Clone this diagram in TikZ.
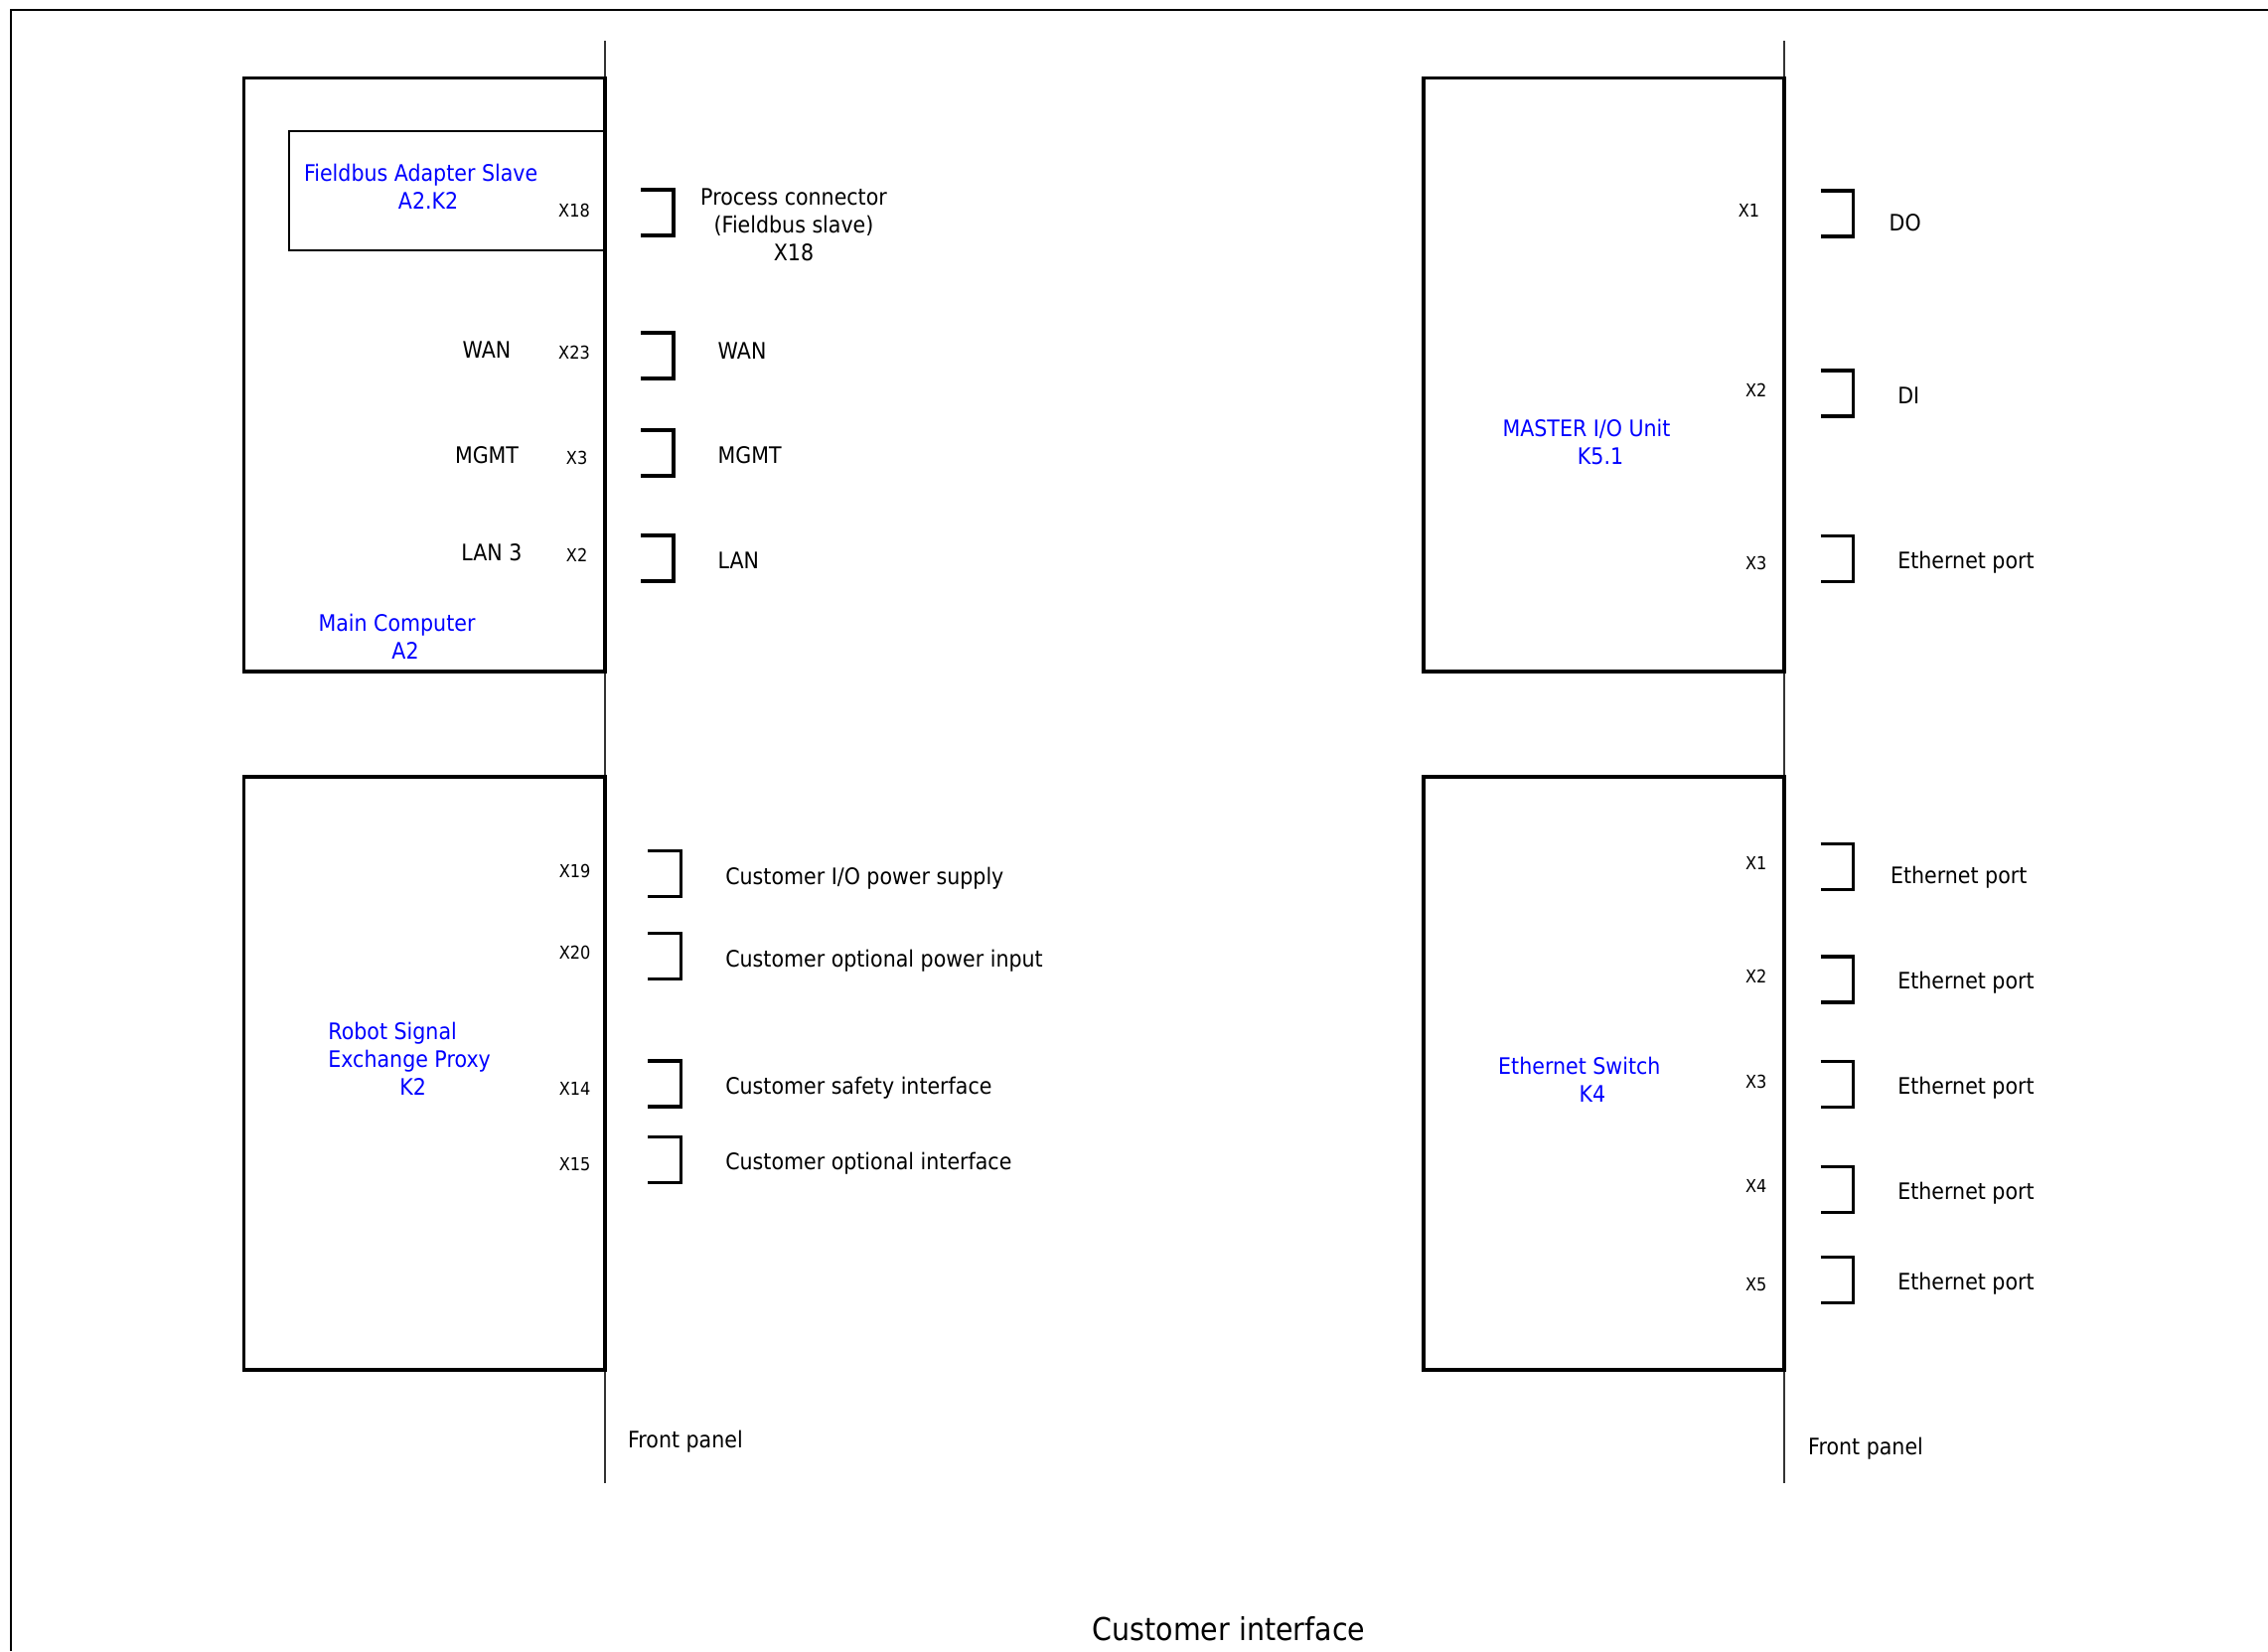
\documentclass[tikz,border=0pt]{standalone}
\usepackage{fontspec}
\setmainfont{DejaVu Sans}[FakeStretch=0.9]
\begin{document}
\begin{tikzpicture}[x=0.01cm,y=-0.01cm,
  box/.style={line width=1.05pt},
  subbox/.style={line width=0.65pt},
  panel/.style={line width=0.45pt, black!80},
  frame/.style={line width=0.6pt},
  brk/.style={line width=0.9pt},
  txt/.style={inner sep=0pt, font=\fontsize{6.5}{7.97}\selectfont},
  lbl/.style={txt, anchor=base west},
  inlbl/.style={txt, anchor=base},
  pin/.style={inner sep=0pt, anchor=base, font=\fontsize{5.1}{6.2}\selectfont},
  dev/.style={txt, text=blue, align=center},
  portbrk/.pic={\draw[brk] (0,0) -- (33,0) -- (33,46) -- (0,46);}
]
\useasboundingbox (0,0) rectangle (2283,1662);
% outer frame (cut by page edges)
\draw[frame] (11,1662) -- (11,10) -- (2283,10);

% front panel lines
\draw[panel] (608.7,41) -- (608.7,1492.7);
\draw[panel] (1795.9,41) -- (1795.9,1492.7);

% boxes
\draw[box] (245.4,78.6) rectangle (608.7,675.9);
\draw[subbox] (608.7,131.7) -- (290.8,131.7) -- (290.8,252.2) -- (608.7,252.2);
\draw[box] (245.4,782) rectangle (608.7,1378.7);
\draw[box] (1432.7,78.6) rectangle (1795.9,675.9);
\draw[box] (1432.7,782) rectangle (1795.9,1378.7);

% device titles
\node[dev] (fba) at (423.6,188) {Fieldbus Adapter Slave\\\hspace*{0.15cm}A2.K2};
\node[dev] (mc) at (399.5,641) {Main Computer\\\hspace*{0.17cm}A2};
\node[dev] (mio) at (1597,444.6) {MASTER I/O Unit\\\hspace*{0.28cm}K5.1};
\node[dev] (esw) at (1589.8,1086.8) {Ethernet Switch\\\hspace*{0.26cm}K4};
\node[dev, align=left, anchor=west] (rsep) at (329.7,1065.5) {Robot Signal\\Exchange Proxy\\\hspace*{0.72cm}K2};

% Main computer ports
\node[pin] (mx18) at (578,218.5) {X18};
\node[pin] (mx23) at (578,361.5) {X23};
\node[pin] (mx3) at (580.6,467.2) {X3};
\node[pin] (mx2) at (580.6,565.5) {X2};
\node[inlbl] (iwan) at (490,360.7) {WAN};
\node[inlbl] (imgmt) at (490,466.5) {MGMT};
\node[inlbl] (ilan) at (495,564.7) {LAN 3};
\pic at (645,191) {portbrk};
\pic at (645,335) {portbrk};
\pic at (645,433) {portbrk};
\pic at (645,539) {portbrk};
\node[txt, align=center] (proc) at (799,226) {Process connector\\(Fieldbus slave)\\X18};
\node[lbl] (owan) at (722,361) {WAN};
\node[lbl] (omgmt) at (722,466.5) {MGMT};
\node[lbl] (olan) at (722,572.7) {LAN};

% Robot signal exchange proxy ports
\node[pin] (rx19) at (578.7,883.3) {X19};
\node[pin] (rx20) at (578.7,965.9) {X20};
\node[pin] (rx14) at (578.7,1102.5) {X14};
\node[pin] (rx15) at (578.7,1178.5) {X15};
\pic at (652.4,856.4) {portbrk};
\pic at (652.4,939.6) {portbrk};
\pic at (652.4,1068) {portbrk};
\pic at (652.4,1144.3) {portbrk};
\node[lbl] (t19) at (729.6,890) {Customer I/O power supply};
\node[lbl] (t20) at (729.6,973.8) {Customer optional power input};
\node[lbl] (t14) at (729.6,1101) {Customer safety interface};
\node[lbl] (t15) at (729.6,1177.3) {Customer optional interface};

% Master I/O ports
\node[pin] (ix1) at (1760.4,218.5) {X1};
\node[pin] (ix2) at (1767.7,399.3) {X2};
\node[pin] (ix3) at (1767.7,573.5) {X3};
\pic at (1832.5,192) {portbrk};
\pic at (1832.5,373) {portbrk};
\pic at (1832.5,539.5) {portbrk};
\node[lbl] (tdo) at (1901,232.5) {DO};
\node[lbl] (tdi) at (1909.6,406.6) {DI};
\node[lbl] (tie) at (1909.6,572.7) {Ethernet port};

% Ethernet switch ports
\node[pin] (ex1) at (1767.7,875.7) {X1};
\node[pin] (ex2) at (1767.7,989.7) {X2};
\node[pin] (ex3) at (1767.7,1095.5) {X3};
\node[pin] (ex4) at (1767.7,1200.3) {X4};
\node[pin] (ex5) at (1767.7,1299.1) {X5};
\pic at (1832.5,849.5) {portbrk};
\pic at (1832.5,963) {portbrk};
\pic at (1832.5,1068.7) {portbrk};
\pic at (1832.5,1174.6) {portbrk};
\pic at (1832.5,1265.3) {portbrk};
\node[lbl] (te1) at (1902.3,889.4) {Ethernet port};
\node[lbl] (te2) at (1909.6,995.3) {Ethernet port};
\node[lbl] (te3) at (1909.6,1101) {Ethernet port};
\node[lbl] (te4) at (1909.6,1207) {Ethernet port};
\node[lbl] (te5) at (1909.6,1298.9) {Ethernet port};

% front panel labels
\node[lbl] (fp1) at (631.4,1457.7) {Front panel};
\node[lbl] (fp2) at (1819.5,1464.6) {Front panel};

% title
\node[inner sep=0pt, anchor=base, font=\fontsize{9}{11}\selectfont] (title) at (1237,1651) {Customer interface};
\end{tikzpicture}
\end{document}
